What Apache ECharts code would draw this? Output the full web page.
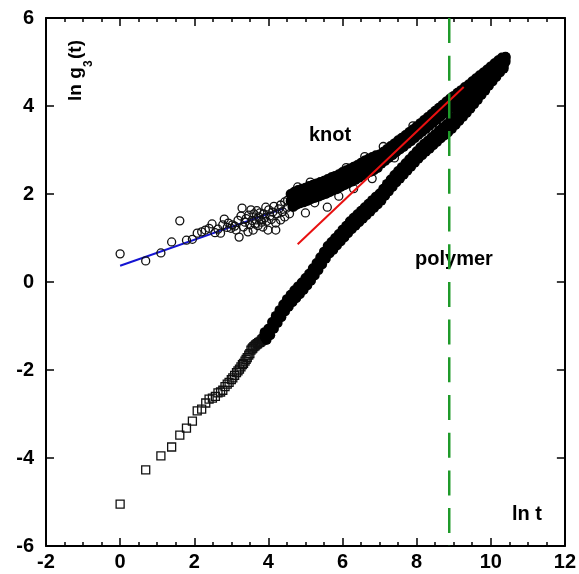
<!DOCTYPE html>
<html><head><meta charset="utf-8">
<script src="https://cdn.jsdelivr.net/npm/echarts/dist/echarts.min.js"></script>
<style>html,body{margin:0;padding:0;background:#fff}#c{width:579px;height:574px}</style>
</head><body><div id="c"></div>
<script>
// axis ranges / ticks
const xMin = -2, xMax = 12, xInterval = 2;
const yMin = -6, yMax = 6, yInterval = 2;

// knot: sparse early points (hollow circles)
const knotSparse = [[0.00,0.64],[0.69,0.48],[1.10,0.66],[1.39,0.91],[1.61,1.39],[1.79,0.95],[1.95,0.97],[2.08,1.11],[2.20,1.14],[2.30,1.18],[2.40,1.22],[2.48,1.32],[2.56,1.12],[2.64,1.20],[2.71,1.11],[2.77,1.30],[2.81,1.43],[2.89,1.24],[2.92,1.34],[2.99,1.22],[3.03,1.30],[3.09,1.27],[3.13,1.18],[3.18,1.40],[3.21,1.02],[3.26,1.50],[3.29,1.68],[3.33,1.25],[3.37,1.36],[3.40,1.44],[3.45,1.14],[3.47,1.52],[3.50,1.30],[3.53,1.64],[3.56,1.40],[3.59,1.18],[3.61,1.55],[3.64,1.32],[3.67,1.41],[3.69,1.62],[3.72,1.28],[3.74,1.48],[3.77,1.57],[3.80,1.41],[3.82,1.36],[3.85,1.25],[3.87,1.55],[3.90,1.46],[3.93,1.70],[3.95,1.38],[3.99,1.18],[4.01,1.64],[4.04,1.50],[4.08,1.42],[4.12,1.59],[4.15,1.72],[4.20,1.34],[4.20,1.18],[4.24,1.55],[4.28,1.66],[4.33,1.75],[4.33,1.41],[4.38,1.60],[4.44,1.48],[4.44,1.82],[4.50,1.68],[4.52,1.86],[4.57,1.55],[4.62,1.95],[4.68,1.70],[4.75,2.05],[4.79,2.16],[4.85,1.78],[5.00,1.57],[5.13,2.27],[5.25,1.80],[5.40,2.25],[5.59,1.70],[5.75,2.40],[5.90,1.95],[6.10,2.60],[6.30,2.12],[6.60,2.85],[6.80,2.35],[7.10,3.08],[7.40,2.82],[7.90,3.55]];

// knot: dense band, upper and lower edges read along the band
const knotDense = [[4.6,2.00],[4.65,1.71],[4.7,2.05],[4.75,1.75],[4.8,2.09],[4.85,1.79],[4.9,2.12],[4.95,1.81],[5.0,2.14],[5.05,1.84],[5.1,2.18],[5.15,1.88],[5.2,2.21],[5.25,1.91],[5.3,2.24],[5.35,1.94],[5.4,2.27],[5.45,1.97],[5.5,2.30],[5.55,2.00],[5.6,2.34],[5.65,2.04],[5.7,2.38],[5.75,2.08],[5.8,2.41],[5.85,2.11],[5.9,2.45],[5.95,2.16],[6.0,2.50],[6.05,2.20],[6.1,2.54],[6.15,2.24],[6.2,2.58],[6.25,2.28],[6.3,2.62],[6.35,2.32],[6.4,2.66],[6.45,2.37],[6.5,2.71],[6.55,2.42],[6.6,2.76],[6.65,2.46],[6.7,2.80],[6.75,2.50],[6.8,2.84],[6.85,2.54],[6.9,2.88],[6.95,2.59],[7.0,2.90],[7.05,2.69],[7.1,2.96],[7.15,2.75],[7.2,3.02],[7.25,2.82],[7.3,3.09],[7.35,2.88],[7.4,3.15],[7.45,2.95],[7.5,3.22],[7.55,3.01],[7.6,3.28],[7.65,3.07],[7.7,3.34],[7.75,3.14],[7.8,3.41],[7.85,3.20],[7.9,3.47],[7.95,3.27],[8.0,3.54],[8.05,3.34],[8.1,3.61],[8.15,3.41],[8.2,3.68],[8.25,3.48],[8.3,3.75],[8.35,3.55],[8.4,3.82],[8.45,3.62],[8.5,3.89],[8.55,3.69],[8.6,3.96],[8.65,3.76],[8.7,4.03],[8.75,3.83],[8.8,4.10],[8.85,3.90],[8.9,4.17],[8.95,3.96],[9.0,4.23],[9.05,4.03],[9.1,4.30],[9.15,4.09],[9.2,4.36],[9.25,4.16],[9.3,4.43],[9.35,4.22],[9.4,4.49],[9.45,4.29],[9.5,4.56],[9.55,4.36],[9.6,4.63],[9.65,4.43],[9.7,4.70],[9.75,4.49],[9.8,4.76],[9.85,4.56],[9.9,4.83],[9.95,4.63],[10.0,4.90],[10.05,4.70],[10.1,4.97],[10.15,4.77],[10.2,5.04],[10.25,4.84],[10.3,5.10],[10.35,4.91],[10.4,5.12]];
// knot: dense band, middle of the band
const knotCore = [[4.6,1.84],[4.7,1.89],[4.8,1.93],[4.9,1.96],[5.0,1.98],[5.1,2.02],[5.2,2.05],[5.3,2.08],[5.4,2.11],[5.5,2.14],[5.6,2.18],[5.7,2.22],[5.8,2.25],[5.9,2.29],[6.0,2.34],[6.1,2.38],[6.2,2.42],[6.3,2.46],[6.4,2.50],[6.5,2.55],[6.6,2.60],[6.7,2.64],[6.8,2.68],[6.9,2.72],[7.0,2.78],[7.1,2.84],[7.2,2.90],[7.3,2.97],[7.4,3.03],[7.5,3.10],[7.6,3.16],[7.7,3.22],[7.8,3.29],[7.9,3.35],[8.0,3.42],[8.1,3.49],[8.2,3.56],[8.3,3.63],[8.4,3.70],[8.5,3.77],[8.6,3.84],[8.7,3.91],[8.8,3.98],[8.9,4.05],[9.0,4.11],[9.1,4.18],[9.2,4.24],[9.3,4.31],[9.4,4.37],[9.5,4.44],[9.6,4.51],[9.7,4.58],[9.8,4.64],[9.9,4.71],[10.0,4.78],[10.1,4.85],[10.2,4.92],[10.3,5.00],[10.4,5.05]];

// polymer: sparse early points (hollow squares)
const polySparse = [[0.00,-5.05],[0.69,-4.27],[1.10,-3.95],[1.39,-3.75],[1.61,-3.48],[1.79,-3.32],[1.95,-3.16],[2.08,-2.93],[2.20,-2.89],[2.31,-2.75],[2.40,-2.66],[2.49,-2.64],[2.57,-2.60],[2.64,-2.52],[2.71,-2.50],[2.77,-2.46],[2.83,-2.38],[2.89,-2.32],[2.94,-2.28],[3.00,-2.22],[3.04,-2.18],[3.09,-2.12],[3.14,-2.06],[3.18,-2.02],[3.22,-1.98],[3.26,-1.93],[3.30,-1.88],[3.33,-1.85],[3.37,-1.80],[3.40,-1.76],[3.43,-1.72],[3.47,-1.66],[3.50,-1.63],[3.53,-1.55],[3.56,-1.52],[3.58,-1.50],[3.61,-1.47],[3.64,-1.45],[3.66,-1.43],[3.69,-1.41],[3.71,-1.40],[3.74,-1.38],[3.76,-1.37],[3.78,-1.36],[3.81,-1.34],[3.83,-1.31],[3.85,-1.30],[3.87,-1.28],[3.89,-1.26]];

// polymer: dense band, upper and lower edges
const polyDense = [[3.9,-1.14],[3.95,-1.32],[4.0,-1.06],[4.05,-1.21],[4.1,-0.91],[4.15,-1.06],[4.2,-0.77],[4.25,-0.93],[4.3,-0.64],[4.35,-0.80],[4.4,-0.51],[4.45,-0.67],[4.5,-0.39],[4.55,-0.56],[4.6,-0.29],[4.65,-0.46],[4.7,-0.19],[4.75,-0.37],[4.8,-0.10],[4.85,-0.28],[4.9,-0.01],[4.95,-0.18],[5.0,0.09],[5.05,-0.08],[5.1,0.19],[5.15,0.03],[5.2,0.31],[5.25,0.15],[5.3,0.43],[5.35,0.27],[5.4,0.56],[5.45,0.40],[5.5,0.69],[5.55,0.53],[5.6,0.82],[5.65,0.65],[5.7,0.91],[5.75,0.73],[5.8,1.00],[5.85,0.83],[5.9,1.09],[5.95,0.92],[6.0,1.19],[6.05,1.01],[6.1,1.28],[6.15,1.11],[6.2,1.38],[6.25,1.20],[6.3,1.46],[6.35,1.28],[6.4,1.54],[6.45,1.36],[6.5,1.62],[6.55,1.44],[6.6,1.70],[6.65,1.52],[6.7,1.78],[6.75,1.60],[6.8,1.86],[6.85,1.68],[6.9,1.94],[6.95,1.76],[7.0,2.01],[7.05,1.85],[7.1,2.12],[7.15,1.96],[7.2,2.23],[7.25,2.06],[7.3,2.33],[7.35,2.16],[7.4,2.43],[7.45,2.26],[7.5,2.52],[7.55,2.35],[7.6,2.61],[7.65,2.44],[7.7,2.70],[7.75,2.53],[7.8,2.79],[7.85,2.62],[7.9,2.88],[7.95,2.71],[8.0,2.97],[8.05,2.80],[8.1,3.06],[8.15,2.88],[8.2,3.14],[8.25,2.96],[8.3,3.21],[8.35,3.03],[8.4,3.29],[8.45,3.11],[8.5,3.36],[8.55,3.18],[8.6,3.44],[8.65,3.26],[8.7,3.51],[8.75,3.33],[8.8,3.58],[8.85,3.40],[8.9,3.66],[8.95,3.48],[9.0,3.74],[9.05,3.57],[9.1,3.83],[9.15,3.66],[9.2,3.92],[9.25,3.75],[9.3,4.01],[9.35,3.84],[9.4,4.11],[9.45,3.94],[9.5,4.21],[9.55,4.04],[9.6,4.31],[9.65,4.14],[9.7,4.41],[9.75,4.25],[9.8,4.52],[9.85,4.35],[9.9,4.62],[9.95,4.46],[10.0,4.73],[10.05,4.56],[10.1,4.83],[10.15,4.66],[10.2,4.93],[10.25,4.76],[10.3,5.03],[10.35,4.85],[10.4,5.11]];
// polymer: dense band, middle of the band
const polyCore = [[3.9,-1.25],[4.0,-1.17],[4.1,-1.02],[4.2,-0.88],[4.3,-0.75],[4.4,-0.62],[4.5,-0.50],[4.6,-0.40],[4.7,-0.30],[4.8,-0.21],[4.9,-0.12],[5.0,-0.02],[5.1,0.08],[5.2,0.20],[5.3,0.32],[5.4,0.45],[5.5,0.58],[5.6,0.71],[5.7,0.80],[5.8,0.89],[5.9,0.98],[6.0,1.08],[6.1,1.17],[6.2,1.27],[6.3,1.35],[6.4,1.43],[6.5,1.51],[6.6,1.59],[6.7,1.67],[6.8,1.75],[6.9,1.83],[7.0,1.90],[7.1,2.01],[7.2,2.12],[7.3,2.22],[7.4,2.32],[7.5,2.41],[7.6,2.50],[7.7,2.59],[7.8,2.68],[7.9,2.77],[8.0,2.86],[8.1,2.95],[8.2,3.03],[8.3,3.10],[8.4,3.18],[8.5,3.25],[8.6,3.33],[8.7,3.40],[8.8,3.47],[8.9,3.55],[9.0,3.63],[9.1,3.72],[9.2,3.81],[9.3,3.90],[9.4,4.00],[9.5,4.10],[9.6,4.20],[9.7,4.30],[9.8,4.41],[9.9,4.51],[10.0,4.62],[10.1,4.72],[10.2,4.82],[10.3,4.92],[10.4,5.00]];

// fit lines and crossover marker
const blueFit = [[0.00,0.37],[4.44,1.68]];
const redFit = [[4.79,0.86],[9.27,4.43]];
const crossoverX = 8.88;
const crossover = [[crossoverX, yMax],[crossoverX, yMin]];

const FONT = '"Liberation Sans", Arial, Helvetica, sans-serif';
const chart = echarts.init(document.getElementById('c'), null, {renderer:'canvas'});

function xAx(pos, showLabel){
  return {type:'value', min:xMin, max:xMax, interval:xInterval, position:pos, gridIndex:0,
    axisLine:{onZero:false, lineStyle:{color:'#000', width:2}},
    axisTick:{inside:true, length:8, lineStyle:{color:'#000', width:1.5}},
    minorTick:{show:true, splitNumber:4, length:4, lineStyle:{color:'#000', width:1.5}},
    axisLabel:{show:showLabel, color:'#000', fontSize:20, fontWeight:'bold', fontFamily:FONT, margin:6},
    splitLine:{show:false}, minorSplitLine:{show:false}};
}
function yAx(pos, showLabel){
  return {type:'value', min:yMin, max:yMax, interval:yInterval, position:pos, gridIndex:0,
    axisLine:{onZero:false, lineStyle:{color:'#000', width:2}},
    axisTick:{inside:true, length:8, lineStyle:{color:'#000', width:1.5}},
    axisLabel:{show:showLabel, color:'#000', fontSize:20, fontWeight:'bold', fontFamily:FONT, margin:12},
    splitLine:{show:false}};
}
const hollow = {color:'rgba(255,255,255,0)', borderColor:'#111', borderWidth:1.3, opacity:1};

// dense bands: solid black dots placed through the axes' coordinate system
function denseSeries(data){
  return {type:'custom', data:data, z:3, silent:true, clip:true,
    encode:{x:0, y:1},
    renderItem:function(params, api){
      const p = api.coord([api.value(0), api.value(1)]);
      return {type:'circle', shape:{cx:p[0], cy:p[1], r:5}, style:{fill:'#000', opacity:1}};
    }};
}

chart.setOption({
  animation:false,
  grid:{left:46, right:9, top:18, bottom:28, containLabel:false},
  xAxis:[xAx('bottom', true), xAx('top', false)],
  yAxis:[yAx('left', true), yAx('right', false)],
  series:[
    {type:'line', data:blueFit, symbol:'none', z:1, lineStyle:{color:'#1414d2', width:2}, silent:true},
    {type:'scatter', data:knotSparse, symbol:'circle', symbolSize:8, itemStyle:hollow, z:2, silent:true, emphasis:{disabled:true}},
    {type:'scatter', data:polySparse, symbol:'rect', symbolSize:8, itemStyle:hollow, z:2, silent:true, emphasis:{disabled:true}},
    denseSeries(polyDense),
    denseSeries(polyCore),
    denseSeries(knotDense),
    denseSeries(knotCore),
    {type:'line', data:redFit, symbol:'none', z:5, lineStyle:{color:'#e81010', width:2}, silent:true},
    {type:'line', data:crossover, symbol:'none', z:6, lineStyle:{color:'#1f9a2a', width:2.5, type:[25,12.7]}, silent:true}
  ],
  graphic:[
    {type:'group', x:76, y:101, rotation:Math.PI/2, children:[
      {type:'text', x:0, y:0, style:{text:'ln g', font:'bold 19px '+FONT, fill:'#000', align:'left', verticalAlign:'middle'}},
      {type:'text', x:34, y:13, style:{text:'3', font:'bold 12px '+FONT, fill:'#000', align:'left', verticalAlign:'middle'}},
      {type:'text', x:42, y:0, style:{text:'(t)', font:'bold 19px '+FONT, fill:'#000', align:'left', verticalAlign:'middle'}}
    ]},
    {type:'text', x:330, y:135, style:{text:'knot', font:'bold 20px '+FONT, fill:'#000', align:'center', verticalAlign:'middle'}},
    {type:'text', x:454, y:259, style:{text:'polymer', font:'bold 20px '+FONT, fill:'#000', align:'center', verticalAlign:'middle'}},
    {type:'text', x:527, y:514, style:{text:'ln t', font:'bold 20px '+FONT, fill:'#000', align:'center', verticalAlign:'middle'}}
  ]
});
</script></body></html>
